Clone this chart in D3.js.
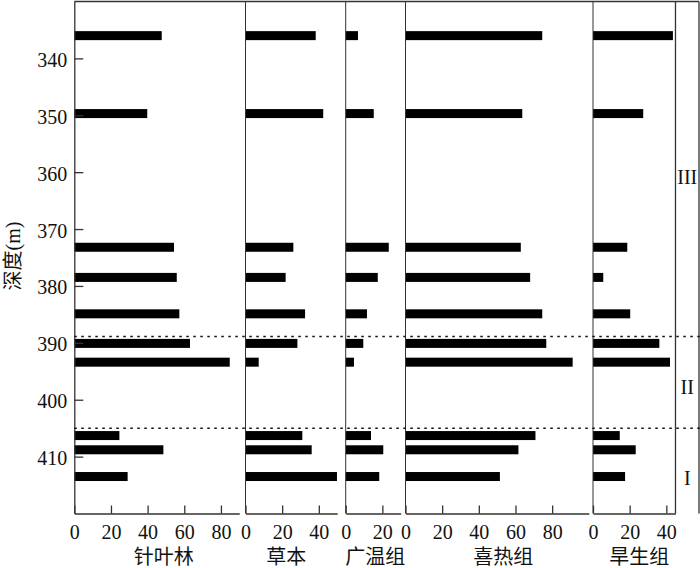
<!DOCTYPE html>
<html>
<head>
<meta charset="utf-8">
<script src="https://cdn.jsdelivr.net/npm/d3@7"></script>
<style>
  body { margin: 0; background: #fff; }
  .chart text { font-family: 'Liberation Serif', 'Noto Sans CJK SC', serif; fill: #111; }
</style>
</head>
<body>
<div class="chart"></div>
<script>
(function() {
  'use strict';

  const WIDTH = 700;
  const HEIGHT = 568;

  // Sample depths (m)
  const DEPTHS = [336, 349.7, 373.2, 378.5, 384.9, 390.1, 393.4, 406.3, 408.8, 413.5];

  // Percentages per pollen group
  const GROUPS = ['针叶林', '草本', '广温组', '喜热组', '旱生组'];
  const CONIFER = [47.7, 39.8, 54.4, 55.9, 57.3, 63.1, 84.8, 24.6, 48.6, 29.1];
  const HERB = [38.3, 42.4, 26.1, 21.9, 32.5, 28.3, 7.2, 31.0, 36.1, 49.9];
  const EURYTHERMAL = [6.7, 15.3, 23.5, 17.5, 11.6, 9.6, 4.5, 13.8, 20.5, 18.3];
  const THERMOPHILOUS = [74.6, 63.7, 62.9, 68.0, 74.6, 76.8, 91.2, 70.9, 61.6, 51.5];
  const XEROPHYTE = [43.6, 27.4, 18.7, 5.6, 20.3, 36.2, 42.0, 14.6, 23.3, 17.5];
  const SERIES = [CONIFER, HERB, EURYTHERMAL, THERMOPHILOUS, XEROPHYTE];

  // Axes
  const X_MAX = [90, 50, 30, 100, 45];
  const X_TICKS = [[0, 20, 40, 60, 80], [0, 20, 40], [0, 20], [0, 20, 40, 60, 80], [0, 20, 40]];
  const DEPTH_DOMAIN = [330, 420];
  const DEPTH_TICKS = [340, 350, 360, 370, 380, 390, 400, 410];

  // Zones
  const ZONE_BOUNDS = [388.9, 405.0];
  const ZONES = ['III', 'II', 'I'];
  const ZONE_DEPTHS = [360.9, 397.7, 413.7];

  // Layout
  const PANEL_LEFT = [74.3, 245.5, 345.7, 405.5, 593];
  const TITLE_SHIFT = [7, -5, 2, 6, 5];
  const PX_PER_UNIT = 1.833;
  const TOP = 1.5;
  const BOTTOM = 513.5;
  const RIGHT = 699;
  const BAR_H = 9;
  const LINE = '#333';

  const svg = d3.select('.chart')
    .append('svg')
    .attr('width', WIDTH)
    .attr('height', HEIGHT);

  const y = d3.scaleLinear().domain(DEPTH_DOMAIN).range([TOP, BOTTOM]);

  const zoneLeft = PANEL_LEFT[4] + X_MAX[4] * PX_PER_UNIT;

  // Top border, right border, zone column divider
  svg.append('line')
    .attr('x1', PANEL_LEFT[0]).attr('x2', RIGHT)
    .attr('y1', TOP).attr('y2', TOP)
    .attr('stroke', LINE).attr('stroke-width', 1.3);
  svg.append('line')
    .attr('x1', zoneLeft).attr('x2', zoneLeft)
    .attr('y1', TOP).attr('y2', BOTTOM)
    .attr('stroke', LINE).attr('stroke-width', 1.3);
  svg.append('line')
    .attr('x1', RIGHT).attr('x2', RIGHT)
    .attr('y1', TOP).attr('y2', BOTTOM)
    .attr('stroke', LINE).attr('stroke-width', 1.3);

  for (let i = 0; i < GROUPS.length; ++i) {
    const left = PANEL_LEFT[i];
    const x = d3.scaleLinear()
      .domain([0, X_MAX[i]])
      .range([left, left + X_MAX[i] * PX_PER_UNIT]);

    const g = svg.append('g').attr('class', 'panel');

    // Bars
    g.selectAll('rect')
      .data(SERIES[i])
      .join('rect')
      .attr('x', x(0))
      .attr('y', (d, j) => y(DEPTHS[j]) - BAR_H / 2)
      .attr('width', d => x(d) - x(0))
      .attr('height', BAR_H)
      .attr('fill', '#000');

    // Bottom axis, ticks inside
    const xAxis = g.append('g')
      .attr('transform', 'translate(0,' + BOTTOM + ')')
      .call(d3.axisBottom(x).tickValues(X_TICKS[i]).tickSizeInner(-8).tickSizeOuter(0).tickPadding(11));
    xAxis.selectAll('text').attr('font-size', 20);

    // Left axis
    if (i === 0) {
      const yAxis = g.append('g')
        .attr('transform', 'translate(' + left + ',0)')
        .call(d3.axisLeft(y).tickValues(DEPTH_TICKS).tickSizeInner(-9).tickSizeOuter(0).tickPadding(7));
      yAxis.selectAll('text').attr('font-size', 20).attr('dy', '0.4em');
    } else {
      g.append('line')
        .attr('x1', left).attr('x2', left)
        .attr('y1', TOP).attr('y2', BOTTOM)
        .attr('stroke', LINE);
    }

    g.selectAll('.domain, .tick line').attr('stroke', LINE).attr('stroke-width', 1.3);

    // Panel title
    g.append('text')
      .attr('x', (x.range()[0] + x.range()[1]) / 2 + TITLE_SHIFT[i])
      .attr('y', 564)
      .attr('text-anchor', 'middle')
      .attr('font-size', 20)
      .text(GROUPS[i]);
  }

  // Zone boundaries
  svg.selectAll('.bound')
    .data(ZONE_BOUNDS)
    .join('line')
    .attr('class', 'bound')
    .attr('x1', PANEL_LEFT[0]).attr('x2', WIDTH)
    .attr('y1', d => y(d)).attr('y2', d => y(d))
    .attr('stroke', '#111')
    .attr('stroke-width', 1.5)
    .attr('stroke-dasharray', '2.5,4.5');

  // Zone labels
  svg.selectAll('.zone')
    .data(ZONES)
    .join('text')
    .attr('class', 'zone')
    .attr('x', (zoneLeft + RIGHT) / 2)
    .attr('y', (d, j) => y(ZONE_DEPTHS[j]))
    .attr('dy', '0.35em')
    .attr('text-anchor', 'middle')
    .attr('font-size', 20)
    .text(d => d);

  // Y label
  svg.append('text')
    .attr('transform', 'translate(20,256) rotate(-90)')
    .attr('text-anchor', 'middle')
    .attr('font-size', 20)
    .text('深度(m)');
})();
</script>
</body>
</html>
